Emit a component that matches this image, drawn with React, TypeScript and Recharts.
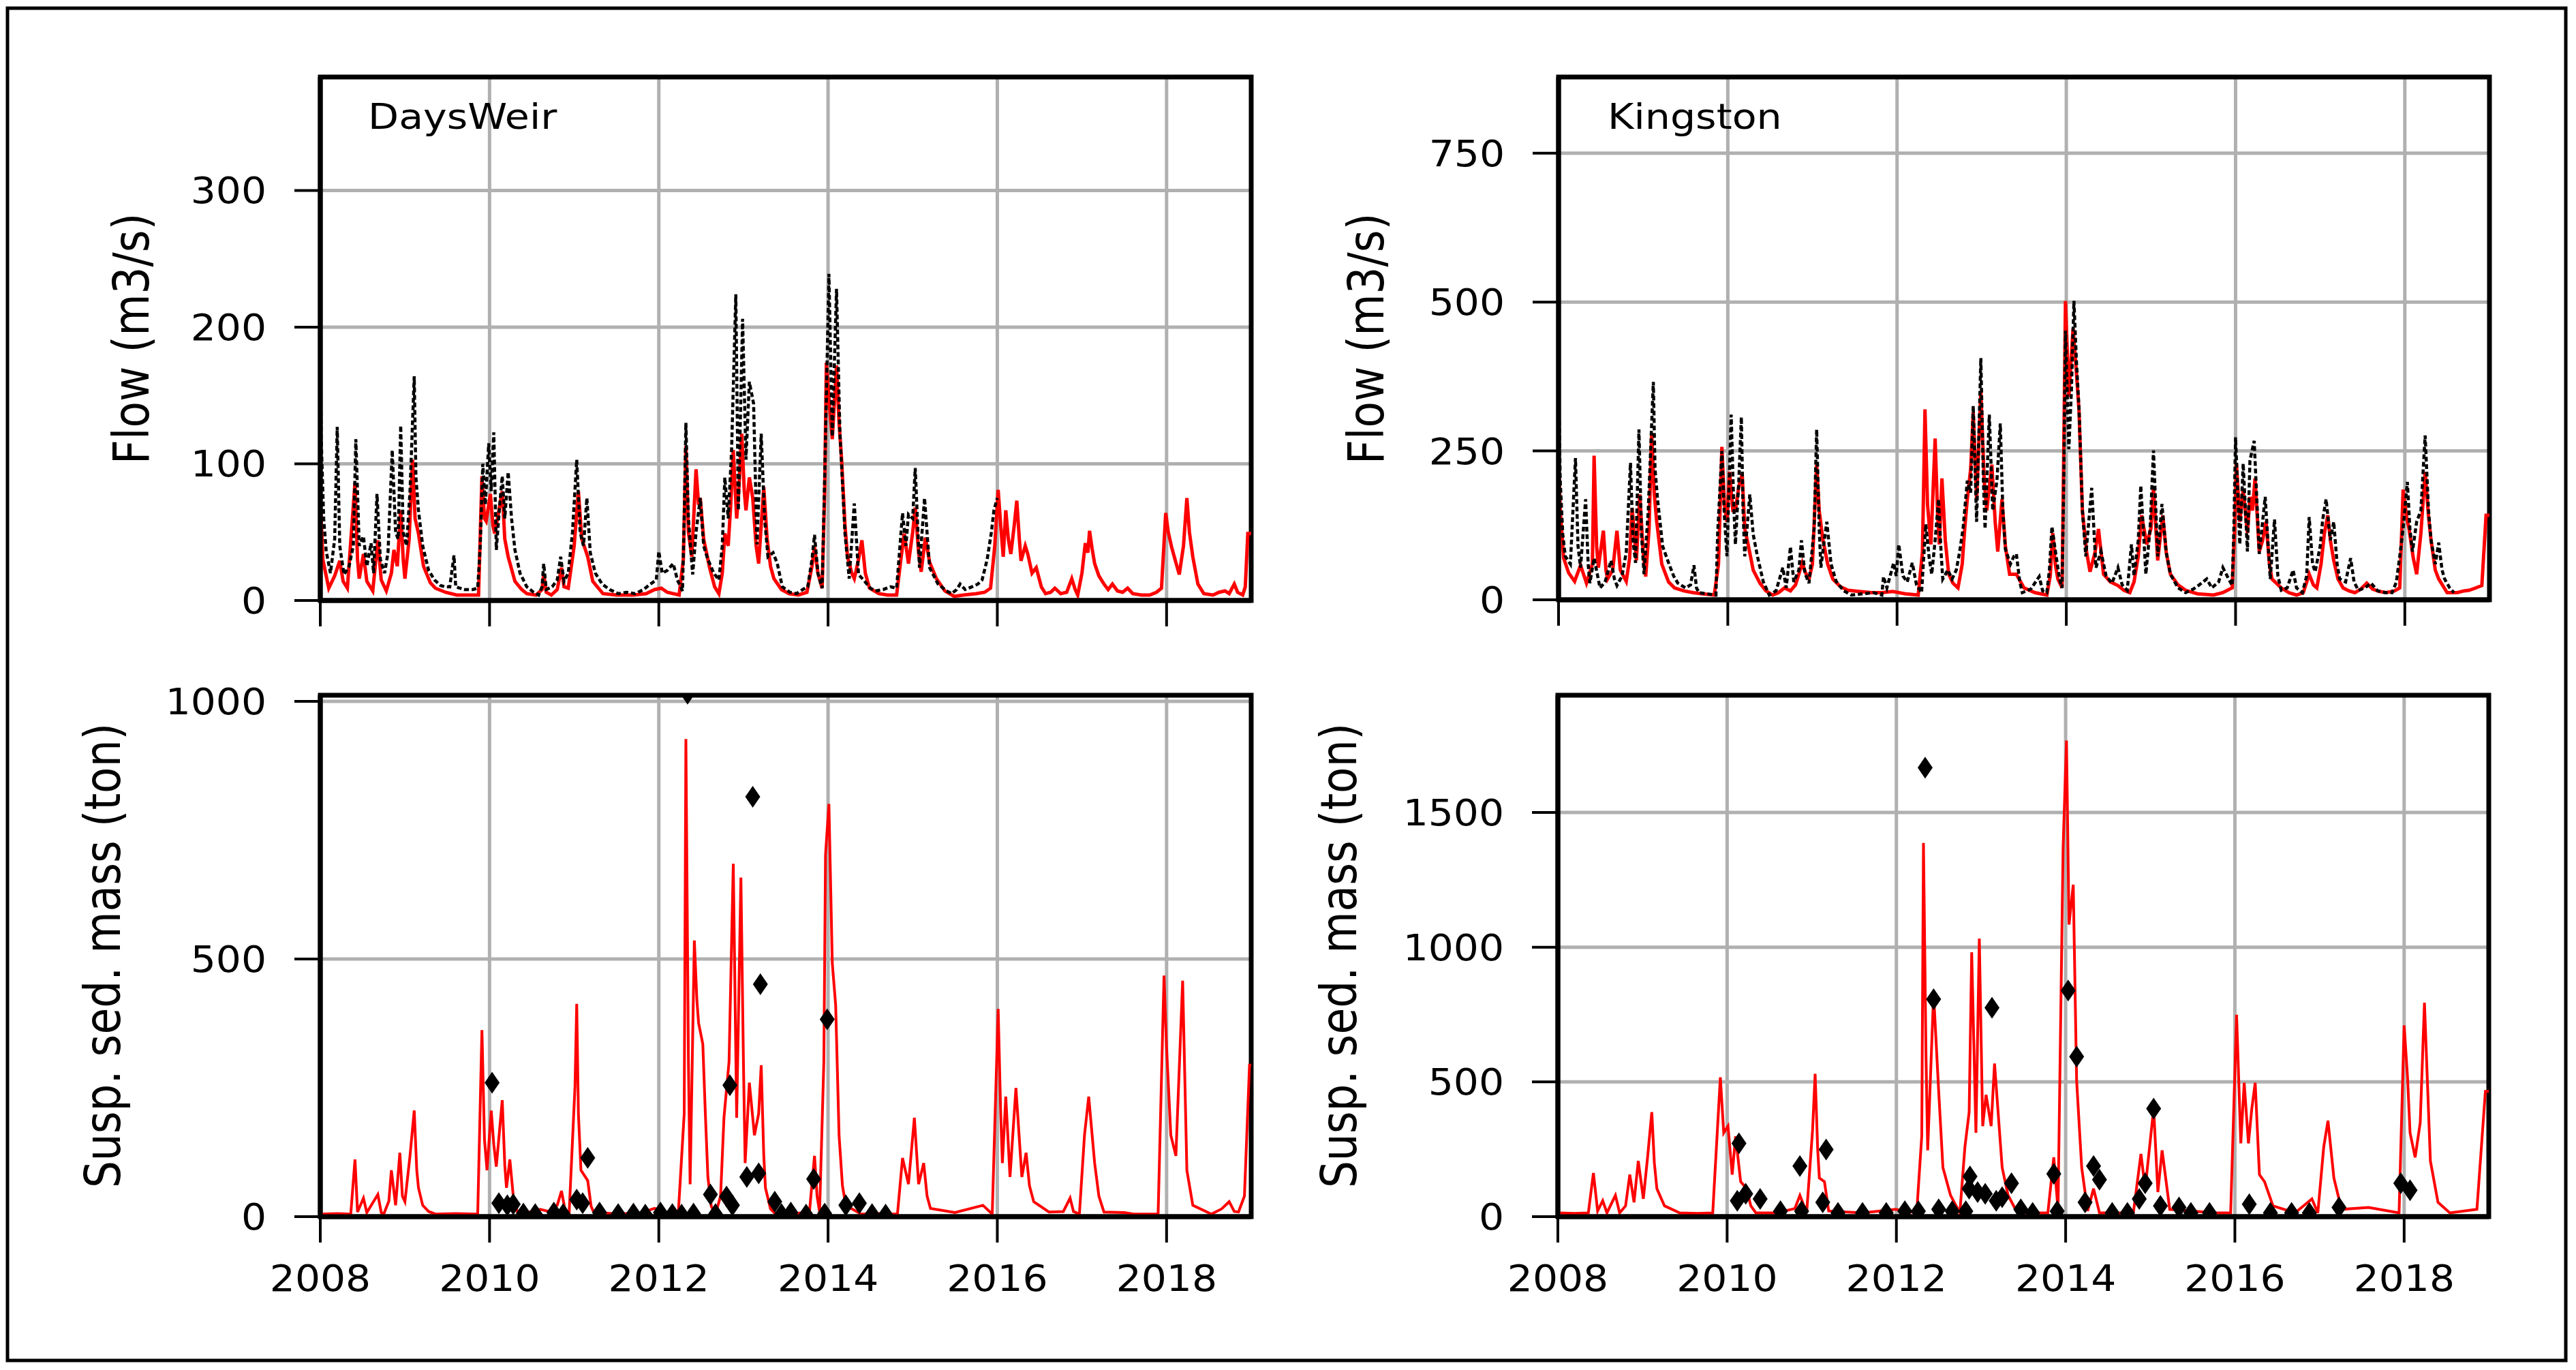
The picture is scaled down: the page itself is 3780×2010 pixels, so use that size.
import React from "react";
import {
  ComposedChart,
  Line,
  Scatter,
  XAxis,
  YAxis,
  CartesianGrid,
  ReferenceArea,
} from "recharts";

// tick values
const yearTicks = [2008, 2010, 2012, 2014, 2016, 2018];
const daysWeirFlowTicks = [0, 100, 200, 300];
const kingstonFlowTicks = [0, 250, 500, 750];
const daysWeirSedTicks = [0, 500, 1000];
const kingstonSedTicks = [0, 500, 1000, 1500];

// all series are [decimal year, value]
const daysWeirFlowModel = [
  [2008.0, 75], [2008.03, 30], [2008.1, 9], [2008.17, 18], [2008.23, 29], [2008.27, 14], [2008.32, 9], [2008.41, 86],
  [2008.44, 30], [2008.46, 16], [2008.51, 34], [2008.55, 14], [2008.62, 7], [2008.68, 44], [2008.72, 15], [2008.78, 7],
  [2008.84, 20], [2008.87, 37], [2008.91, 25], [2008.95, 66], [2008.98, 30], [2009.0, 16], [2009.05, 45], [2009.09, 103],
  [2009.12, 60], [2009.16, 49], [2009.22, 25], [2009.3, 13], [2009.36, 9], [2009.48, 6], [2009.61, 4], [2009.75, 4],
  [2009.87, 4], [2009.91, 91], [2009.94, 60], [2009.96, 58], [2010.01, 78], [2010.04, 55], [2010.06, 49], [2010.1, 62],
  [2010.15, 80], [2010.18, 45], [2010.22, 32], [2010.3, 14], [2010.38, 8], [2010.44, 5], [2010.55, 4], [2010.62, 8],
  [2010.64, 19], [2010.67, 6], [2010.73, 4], [2010.8, 8], [2010.85, 24], [2010.88, 10], [2010.93, 9], [2011.0, 40],
  [2011.05, 80], [2011.09, 45], [2011.16, 32], [2011.22, 14], [2011.34, 5], [2011.5, 4], [2011.7, 4], [2011.85, 5],
  [2011.95, 8], [2012.03, 9], [2012.1, 6], [2012.24, 4], [2012.29, 30], [2012.32, 113], [2012.35, 50], [2012.39, 32],
  [2012.44, 96], [2012.47, 70], [2012.49, 75], [2012.53, 45], [2012.6, 24], [2012.66, 10], [2012.71, 5], [2012.75, 20],
  [2012.78, 49], [2012.82, 40], [2012.85, 70], [2012.88, 110], [2012.92, 60], [2012.94, 75], [2012.98, 122], [2013.01, 80],
  [2013.03, 66], [2013.07, 90], [2013.11, 75], [2013.15, 40], [2013.18, 27], [2013.24, 83], [2013.28, 45], [2013.32, 25],
  [2013.36, 16], [2013.45, 8], [2013.54, 5], [2013.65, 4], [2013.75, 6], [2013.81, 25], [2013.84, 39], [2013.88, 20],
  [2013.93, 9], [2013.96, 80], [2013.98, 174], [2014.02, 140], [2014.05, 118], [2014.1, 172], [2014.13, 130], [2014.16, 103],
  [2014.2, 55], [2014.23, 32], [2014.28, 20], [2014.31, 16], [2014.36, 30], [2014.4, 44], [2014.44, 20], [2014.49, 9],
  [2014.6, 5], [2014.7, 4], [2014.81, 4], [2014.86, 30], [2014.9, 49], [2014.95, 27], [2015.0, 50], [2015.03, 68],
  [2015.07, 35], [2015.1, 21], [2015.15, 46], [2015.2, 28], [2015.28, 16], [2015.38, 7], [2015.49, 3], [2015.6, 4],
  [2015.75, 5], [2015.85, 6], [2015.92, 9], [2015.97, 40], [2016.01, 81], [2016.04, 55], [2016.07, 32], [2016.1, 66],
  [2016.13, 45], [2016.16, 34], [2016.2, 55], [2016.23, 73], [2016.26, 45], [2016.28, 29], [2016.33, 40], [2016.36, 34],
  [2016.41, 20], [2016.46, 24], [2016.52, 10], [2016.57, 5], [2016.63, 6], [2016.68, 9], [2016.75, 5], [2016.82, 6],
  [2016.88, 16], [2016.92, 8], [2016.95, 4], [2017.0, 20], [2017.04, 42], [2017.07, 35], [2017.09, 51], [2017.12, 38],
  [2017.15, 27], [2017.2, 18], [2017.26, 12], [2017.31, 8], [2017.36, 12], [2017.42, 7], [2017.48, 6], [2017.54, 9],
  [2017.6, 5], [2017.7, 4], [2017.8, 4], [2017.88, 6], [2017.94, 9], [2017.99, 64], [2018.02, 50], [2018.06, 39],
  [2018.1, 30], [2018.15, 19], [2018.2, 40], [2018.24, 75], [2018.27, 50], [2018.31, 32], [2018.37, 12], [2018.44, 5],
  [2018.55, 4], [2018.62, 6], [2018.69, 7], [2018.74, 5], [2018.8, 12], [2018.84, 6], [2018.9, 4], [2018.93, 10],
  [2018.96, 49], [2019.0, 49],
];

const daysWeirFlowObserved = [
  [2008.0, 193], [2008.01, 120], [2008.04, 60], [2008.07, 36], [2008.12, 20], [2008.17, 45], [2008.2, 127], [2008.23, 40],
  [2008.28, 19], [2008.34, 25], [2008.39, 40], [2008.42, 118], [2008.46, 40], [2008.51, 47], [2008.55, 25], [2008.6, 42],
  [2008.63, 20], [2008.67, 78], [2008.71, 30], [2008.76, 20], [2008.8, 35], [2008.85, 110], [2008.89, 50], [2008.92, 45],
  [2008.95, 128], [2008.98, 50], [2009.02, 40], [2009.06, 80], [2009.11, 164], [2009.13, 90], [2009.16, 66], [2009.21, 40],
  [2009.28, 22], [2009.35, 15], [2009.42, 11], [2009.47, 10], [2009.53, 10], [2009.58, 33], [2009.6, 10], [2009.7, 8],
  [2009.8, 8], [2009.86, 9], [2009.89, 40], [2009.92, 100], [2009.95, 70], [2009.99, 115], [2010.02, 80], [2010.05, 123],
  [2010.08, 37], [2010.12, 70], [2010.15, 91], [2010.18, 60], [2010.22, 94], [2010.26, 60], [2010.3, 37], [2010.36, 20],
  [2010.44, 10], [2010.52, 6], [2010.58, 4], [2010.62, 10], [2010.64, 27], [2010.67, 8], [2010.74, 10], [2010.8, 15],
  [2010.84, 32], [2010.88, 14], [2010.93, 20], [2010.98, 50], [2011.03, 103], [2011.07, 50], [2011.11, 40], [2011.15, 75],
  [2011.19, 35], [2011.25, 20], [2011.33, 12], [2011.42, 8], [2011.52, 5], [2011.62, 6], [2011.72, 5], [2011.82, 8],
  [2011.9, 12], [2011.97, 15], [2012.0, 36], [2012.04, 20], [2012.1, 22], [2012.17, 27], [2012.22, 15], [2012.28, 7],
  [2012.3, 60], [2012.32, 130], [2012.35, 60], [2012.4, 19], [2012.44, 50], [2012.49, 75], [2012.53, 40], [2012.58, 30],
  [2012.65, 20], [2012.71, 15], [2012.75, 40], [2012.78, 90], [2012.82, 60], [2012.86, 110], [2012.91, 224], [2012.94, 66],
  [2012.99, 206], [2013.03, 103], [2013.07, 160], [2013.12, 144], [2013.16, 41], [2013.21, 122], [2013.25, 60], [2013.29, 32],
  [2013.35, 35], [2013.4, 27], [2013.46, 10], [2013.55, 6], [2013.63, 5], [2013.7, 8], [2013.76, 10], [2013.81, 30],
  [2013.84, 48], [2013.88, 20], [2013.93, 9], [2013.96, 90], [2014.01, 239], [2014.05, 120], [2014.1, 228], [2014.14, 123],
  [2014.2, 49], [2014.25, 16], [2014.31, 71], [2014.36, 19], [2014.42, 15], [2014.5, 9], [2014.56, 7], [2014.65, 8],
  [2014.74, 10], [2014.81, 9], [2014.85, 40], [2014.88, 64], [2014.92, 40], [2014.95, 63], [2015.0, 60], [2015.03, 97],
  [2015.08, 24], [2015.14, 75], [2015.2, 24], [2015.3, 12], [2015.4, 7], [2015.46, 5], [2015.52, 8], [2015.56, 12],
  [2015.62, 8], [2015.7, 10], [2015.77, 12], [2015.82, 15], [2015.88, 30], [2015.93, 50], [2015.96, 66], [2016.0, 75],
];

const kingstonFlowModel = [
  [2008.0, 240], [2008.02, 150], [2008.06, 70], [2008.12, 45], [2008.19, 31], [2008.26, 58], [2008.33, 28], [2008.4, 60],
  [2008.42, 242], [2008.45, 90], [2008.47, 54], [2008.53, 116], [2008.56, 50], [2008.58, 35], [2008.64, 50], [2008.69, 116],
  [2008.73, 50], [2008.8, 31], [2008.84, 70], [2008.87, 154], [2008.92, 66], [2008.96, 177], [2009.0, 80], [2009.03, 39],
  [2009.07, 120], [2009.1, 280], [2009.13, 180], [2009.16, 131], [2009.22, 60], [2009.3, 30], [2009.37, 20], [2009.48, 15],
  [2009.59, 12], [2009.7, 10], [2009.84, 8], [2009.89, 60], [2009.93, 257], [2009.96, 160], [2009.99, 131], [2010.02, 215],
  [2010.06, 150], [2010.09, 150], [2010.13, 190], [2010.17, 211], [2010.2, 120], [2010.24, 93], [2010.3, 50], [2010.38, 28],
  [2010.45, 15], [2010.53, 8], [2010.6, 12], [2010.67, 20], [2010.74, 15], [2010.8, 25], [2010.88, 62], [2010.92, 45],
  [2010.96, 35], [2011.0, 60], [2011.05, 227], [2011.08, 150], [2011.12, 104], [2011.18, 60], [2011.24, 35], [2011.33, 22],
  [2011.42, 16], [2011.55, 14], [2011.7, 12], [2011.82, 12], [2011.95, 14], [2012.1, 10], [2012.25, 8], [2012.3, 80],
  [2012.33, 320], [2012.36, 160], [2012.4, 93], [2012.45, 271], [2012.48, 140], [2012.5, 93], [2012.53, 204], [2012.57, 100],
  [2012.61, 43], [2012.66, 28], [2012.72, 20], [2012.77, 60], [2012.8, 120], [2012.83, 169], [2012.87, 220], [2012.9, 315],
  [2012.94, 169], [2012.99, 349], [2013.03, 200], [2013.06, 150], [2013.12, 227], [2013.16, 130], [2013.19, 81], [2013.24, 169],
  [2013.28, 90], [2013.33, 43], [2013.41, 43], [2013.5, 20], [2013.63, 12], [2013.77, 8], [2013.81, 40], [2013.84, 112],
  [2013.87, 60], [2013.9, 35], [2013.95, 20], [2013.97, 250], [2013.99, 502], [2014.03, 341], [2014.08, 456], [2014.12, 380],
  [2014.15, 318], [2014.19, 150], [2014.24, 80], [2014.28, 47], [2014.34, 80], [2014.38, 119], [2014.44, 43], [2014.52, 30],
  [2014.61, 24], [2014.68, 16], [2014.75, 12], [2014.8, 30], [2014.85, 73], [2014.89, 142], [2014.95, 93], [2015.0, 120],
  [2015.03, 188], [2015.08, 66], [2015.14, 142], [2015.18, 80], [2015.23, 43], [2015.32, 25], [2015.41, 16], [2015.55, 10],
  [2015.74, 8], [2015.85, 12], [2015.96, 20], [2015.99, 120], [2016.01, 230], [2016.05, 131], [2016.09, 185], [2016.14, 112],
  [2016.17, 173], [2016.2, 150], [2016.23, 204], [2016.28, 81], [2016.32, 100], [2016.36, 131], [2016.4, 60], [2016.43, 35],
  [2016.54, 20], [2016.63, 12], [2016.72, 8], [2016.8, 12], [2016.87, 43], [2016.92, 25], [2016.96, 20], [2017.01, 60],
  [2017.05, 112], [2017.09, 142], [2017.12, 100], [2017.16, 66], [2017.21, 35], [2017.27, 20], [2017.34, 15], [2017.41, 12],
  [2017.48, 18], [2017.55, 28], [2017.62, 18], [2017.7, 14], [2017.78, 12], [2017.88, 15], [2017.94, 20], [2017.98, 185],
  [2018.02, 140], [2018.05, 119], [2018.1, 70], [2018.14, 43], [2018.19, 112], [2018.24, 215], [2018.28, 140], [2018.31, 100],
  [2018.36, 50], [2018.4, 35], [2018.5, 12], [2018.62, 12], [2018.7, 15], [2018.76, 16], [2018.84, 20], [2018.91, 24],
  [2018.96, 142], [2019.0, 142],
];

const kingstonFlowObserved = [
  [2008.0, 364], [2008.02, 200], [2008.05, 110], [2008.08, 73], [2008.14, 60], [2008.2, 238], [2008.23, 90], [2008.26, 54],
  [2008.32, 169], [2008.35, 60], [2008.37, 28], [2008.42, 70], [2008.49, 20], [2008.55, 30], [2008.62, 66], [2008.66, 35],
  [2008.69, 24], [2008.75, 40], [2008.8, 80], [2008.85, 230], [2008.88, 100], [2008.91, 62], [2008.95, 286], [2008.98, 110],
  [2009.01, 43], [2009.06, 150], [2009.12, 366], [2009.14, 220], [2009.17, 169], [2009.23, 90], [2009.3, 62], [2009.36, 40],
  [2009.41, 28], [2009.5, 20], [2009.56, 25], [2009.6, 58], [2009.63, 20], [2009.66, 12], [2009.75, 10], [2009.86, 8],
  [2009.88, 112], [2009.93, 250], [2009.96, 140], [2009.99, 73], [2010.04, 311], [2010.07, 160], [2010.09, 93], [2010.13, 200],
  [2010.16, 307], [2010.18, 150], [2010.2, 73], [2010.26, 177], [2010.3, 110], [2010.35, 73], [2010.42, 30], [2010.49, 8],
  [2010.57, 15], [2010.65, 54], [2010.69, 20], [2010.74, 89], [2010.78, 30], [2010.84, 50], [2010.87, 100], [2010.91, 45],
  [2010.96, 28], [2011.02, 120], [2011.05, 286], [2011.08, 120], [2011.1, 54], [2011.14, 100], [2011.17, 131], [2011.22, 60],
  [2011.28, 31], [2011.37, 15], [2011.46, 8], [2011.6, 10], [2011.72, 12], [2011.82, 8], [2011.84, 39], [2011.88, 20],
  [2011.96, 62], [2011.99, 40], [2012.02, 93], [2012.07, 40], [2012.12, 30], [2012.18, 62], [2012.23, 25], [2012.29, 12],
  [2012.31, 60], [2012.34, 127], [2012.38, 70], [2012.41, 43], [2012.45, 100], [2012.49, 169], [2012.52, 80], [2012.54, 35],
  [2012.6, 50], [2012.65, 35], [2012.7, 50], [2012.74, 81], [2012.78, 120], [2012.83, 200], [2012.87, 180], [2012.9, 326],
  [2012.94, 131], [2012.99, 406], [2013.02, 200], [2013.04, 119], [2013.09, 311], [2013.13, 150], [2013.18, 200], [2013.22, 296],
  [2013.25, 150], [2013.28, 85], [2013.34, 60], [2013.38, 73], [2013.41, 77], [2013.45, 30], [2013.48, 12], [2013.58, 18],
  [2013.68, 39], [2013.72, 15], [2013.77, 12], [2013.8, 50], [2013.83, 123], [2013.88, 73], [2013.92, 35], [2013.95, 20],
  [2013.97, 200], [2013.99, 452], [2014.03, 253], [2014.06, 350], [2014.09, 502], [2014.12, 400], [2014.15, 322], [2014.19, 150],
  [2014.23, 73], [2014.3, 188], [2014.35, 54], [2014.41, 81], [2014.47, 40], [2014.54, 28], [2014.61, 54], [2014.66, 25],
  [2014.72, 16], [2014.77, 93], [2014.8, 40], [2014.85, 100], [2014.88, 192], [2014.94, 43], [2014.99, 120], [2015.03, 251],
  [2015.08, 73], [2015.13, 161], [2015.18, 80], [2015.23, 43], [2015.32, 20], [2015.41, 12], [2015.5, 18], [2015.57, 25],
  [2015.66, 35], [2015.72, 20], [2015.8, 30], [2015.85, 54], [2015.9, 40], [2015.96, 24], [2015.98, 120], [2016.0, 273],
  [2016.05, 93], [2016.09, 229], [2016.14, 81], [2016.17, 234], [2016.22, 267], [2016.28, 77], [2016.35, 173], [2016.41, 35],
  [2016.46, 135], [2016.5, 40], [2016.54, 16], [2016.61, 20], [2016.68, 50], [2016.72, 20], [2016.79, 12], [2016.84, 40],
  [2016.87, 139], [2016.91, 60], [2016.94, 47], [2017.0, 90], [2017.03, 135], [2017.07, 169], [2017.12, 100], [2017.16, 131],
  [2017.2, 60], [2017.23, 35], [2017.3, 30], [2017.36, 70], [2017.4, 30], [2017.45, 16], [2017.53, 20], [2017.6, 28],
  [2017.68, 15], [2017.77, 12], [2017.85, 12], [2017.9, 30], [2017.94, 73], [2017.98, 120], [2018.03, 198], [2018.06, 120],
  [2018.09, 81], [2018.14, 131], [2018.19, 150], [2018.24, 276], [2018.28, 150], [2018.31, 100], [2018.36, 60], [2018.4, 96],
  [2018.44, 50], [2018.47, 35], [2018.53, 20], [2018.58, 12],
];

const daysWeirSedModel = [
  [2008.0, 5], [2008.2, 6], [2008.36, 5], [2008.41, 111], [2008.44, 9], [2008.51, 36], [2008.55, 8], [2008.68, 43],
  [2008.72, 8], [2008.75, 5], [2008.81, 30], [2008.84, 90], [2008.89, 22], [2008.94, 124], [2008.97, 40], [2009.0, 29],
  [2009.06, 118], [2009.11, 206], [2009.14, 90], [2009.16, 56], [2009.21, 22], [2009.28, 10], [2009.36, 5], [2009.6, 6],
  [2009.86, 5], [2009.91, 362], [2009.94, 150], [2009.97, 90], [2010.02, 206], [2010.05, 140], [2010.08, 97], [2010.15, 226],
  [2010.18, 100], [2010.2, 56], [2010.24, 111], [2010.28, 40], [2010.33, 9], [2010.45, 8], [2010.6, 14], [2010.7, 10],
  [2010.8, 22], [2010.85, 50], [2010.89, 15], [2010.94, 5], [2011.01, 254], [2011.03, 413], [2011.05, 200], [2011.08, 90],
  [2011.16, 70], [2011.2, 20], [2011.23, 9], [2011.52, 5], [2011.8, 8], [2011.95, 16], [2012.1, 8], [2012.23, 5],
  [2012.3, 200], [2012.32, 927], [2012.35, 300], [2012.37, 63], [2012.42, 536], [2012.45, 420], [2012.47, 376], [2012.52, 335],
  [2012.55, 200], [2012.58, 77], [2012.62, 20], [2012.67, 5], [2012.73, 40], [2012.77, 192], [2012.83, 301], [2012.88, 685],
  [2012.92, 192], [2012.97, 658], [2013.0, 300], [2013.02, 104], [2013.07, 260], [2013.13, 158], [2013.18, 200], [2013.21, 294],
  [2013.24, 120], [2013.26, 56], [2013.32, 15], [2013.38, 5], [2013.6, 6], [2013.78, 9], [2013.84, 118], [2013.87, 40],
  [2013.9, 9], [2013.95, 300], [2013.97, 702], [2014.01, 801], [2014.05, 492], [2014.09, 410], [2014.13, 158], [2014.17, 60],
  [2014.21, 22], [2014.39, 5], [2014.6, 6], [2014.82, 5], [2014.88, 114], [2014.95, 63], [2015.02, 192], [2015.07, 63],
  [2015.13, 104], [2015.17, 40], [2015.21, 16], [2015.5, 8], [2015.83, 22], [2015.94, 5], [2016.01, 403], [2016.04, 200],
  [2016.06, 104], [2016.1, 233], [2016.15, 77], [2016.22, 250], [2016.29, 77], [2016.34, 124], [2016.38, 60], [2016.43, 29],
  [2016.61, 9], [2016.78, 10], [2016.86, 36], [2016.9, 10], [2016.97, 5], [2017.03, 158], [2017.08, 233], [2017.15, 104],
  [2017.2, 40], [2017.26, 9], [2017.5, 8], [2017.61, 5], [2017.9, 5], [2017.97, 468], [2018.0, 328], [2018.05, 158],
  [2018.11, 118], [2018.19, 458], [2018.24, 90], [2018.31, 22], [2018.53, 5], [2018.65, 15], [2018.74, 29], [2018.8, 10],
  [2018.85, 9], [2018.92, 40], [2018.98, 294], [2019.0, 294],
];

const daysWeirSedObserved = [
  [2010.03, 260], [2010.11, 26], [2010.21, 22], [2010.28, 24], [2010.4, 6], [2010.54, 5], [2010.76, 8], [2010.87, 5],
  [2011.03, 33], [2011.1, 26], [2011.16, 114], [2011.3, 8], [2011.52, 5], [2011.7, 6], [2011.84, 4], [2012.02, 8],
  [2012.16, 5], [2012.27, 4], [2012.34, 1015], [2012.41, 6], [2012.61, 43], [2012.67, 5], [2012.8, 39], [2012.84, 255],
  [2012.87, 22], [2013.04, 77], [2013.11, 815], [2013.18, 84], [2013.2, 451], [2013.37, 29], [2013.45, 5], [2013.56, 8],
  [2013.74, 4], [2013.83, 73], [2013.96, 6], [2013.99, 383], [2014.21, 22], [2014.37, 26], [2014.52, 5], [2014.68, 4],
];

const kingstonSedModel = [
  [2008.0, 14], [2008.2, 12], [2008.36, 14], [2008.42, 162], [2008.47, 21], [2008.53, 59], [2008.58, 14], [2008.68, 79],
  [2008.73, 14], [2008.8, 40], [2008.85, 156], [2008.9, 53], [2008.95, 207], [2009.01, 66], [2009.06, 220], [2009.11, 388],
  [2009.14, 200], [2009.17, 104], [2009.26, 40], [2009.44, 14], [2009.65, 12], [2009.83, 14], [2009.92, 517], [2009.96, 311],
  [2010.01, 336], [2010.06, 156], [2010.1, 298], [2010.16, 130], [2010.23, 104], [2010.28, 40], [2010.34, 14], [2010.59, 14],
  [2010.8, 30], [2010.86, 79], [2010.94, 14], [2011.01, 323], [2011.04, 530], [2011.07, 250], [2011.09, 143], [2011.15, 130],
  [2011.2, 21], [2011.6, 14], [2011.99, 27], [2012.24, 14], [2012.3, 300], [2012.32, 1387], [2012.35, 600], [2012.37, 246],
  [2012.44, 826], [2012.5, 465], [2012.55, 182], [2012.64, 79], [2012.75, 14], [2012.81, 259], [2012.86, 388], [2012.89, 981],
  [2012.94, 311], [2012.98, 1032], [2013.02, 336], [2013.06, 452], [2013.12, 336], [2013.16, 568], [2013.25, 182], [2013.32, 79],
  [2013.43, 14], [2013.79, 14], [2013.86, 220], [2013.91, 27], [2013.97, 1367], [2014.01, 1767], [2014.04, 1084], [2014.09, 1232],
  [2014.13, 504], [2014.19, 182], [2014.26, 21], [2014.33, 104], [2014.4, 14], [2014.8, 14], [2014.89, 233], [2014.94, 104],
  [2015.04, 401], [2015.09, 91], [2015.14, 246], [2015.23, 27], [2015.77, 14], [2015.95, 14], [2016.02, 749], [2016.07, 272],
  [2016.11, 497], [2016.16, 272], [2016.2, 401], [2016.24, 497], [2016.29, 156], [2016.35, 130], [2016.45, 40], [2016.71, 14],
  [2016.91, 66], [2016.98, 14], [2017.05, 259], [2017.1, 356], [2017.17, 143], [2017.26, 27], [2017.58, 34], [2017.94, 14],
  [2018.0, 710], [2018.04, 517], [2018.07, 311], [2018.13, 220], [2018.19, 349], [2018.24, 794], [2018.31, 207], [2018.4, 53],
  [2018.54, 14], [2018.86, 27], [2018.96, 465], [2019.0, 465],
];

const kingstonSedObserved = [
  [2010.12, 59], [2010.14, 272], [2010.22, 85], [2010.39, 66], [2010.63, 20], [2010.86, 188], [2010.88, 20], [2011.13, 53],
  [2011.17, 249], [2011.31, 14], [2011.6, 14], [2011.88, 14], [2012.1, 20], [2012.26, 20], [2012.34, 1666], [2012.44, 807],
  [2012.5, 27], [2012.66, 20], [2012.82, 20], [2012.86, 104], [2012.87, 149], [2012.96, 91], [2013.05, 85], [2013.13, 775],
  [2013.18, 59], [2013.25, 72], [2013.36, 124], [2013.47, 27], [2013.61, 14], [2013.86, 159], [2013.9, 20], [2014.03, 839],
  [2014.13, 594], [2014.23, 53], [2014.33, 188], [2014.4, 137], [2014.55, 14], [2014.73, 14], [2014.87, 66], [2014.94, 124],
  [2015.04, 401], [2015.12, 40], [2015.34, 34], [2015.48, 14], [2015.7, 14], [2016.17, 46], [2016.42, 14], [2016.67, 14],
  [2016.88, 14], [2017.23, 34], [2017.96, 124], [2018.07, 98],
];

const FONT = "'DejaVu Sans', Verdana, sans-serif";
const PLOT_W = 1366;

const toPoints = (rows: number[][]) => rows.map(([t, v]) => ({ t, v }));

function YTick(props: any) {
  const { x, y, payload } = props;
  return (
    <text
      transform={`translate(${x},${y + 19}) scale(1.1,1)`}
      textAnchor="end"
      fontFamily={FONT}
      fontSize={53}
      fill="#000"
    >
      {payload.value}
    </text>
  );
}

function XTick(props: any) {
  const { x, y, payload } = props;
  return (
    <text
      transform={`translate(${x},${y + 38}) scale(1.1,1)`}
      textAnchor="middle"
      fontFamily={FONT}
      fontSize={53}
      fill="#000"
    >
      {payload.value}
    </text>
  );
}

const NoTick = () => <g />;

function Diamond(props: any) {
  const { cx, cy } = props;
  if (cx == null || cy == null) return <g />;
  return (
    <path
      d={`M${cx},${cy - 16}L${cx + 11},${cy}L${cx},${cy + 16}L${cx - 11},${cy}Z`}
      fill="#000"
    />
  );
}

type PanelProps = {
  left: number;
  top: number;
  axisW: number;
  marginTop: number;
  plotH: number;
  xAxisH: number;
  yMax: number;
  yTicks: number[];
  model: number[][];
  observed: number[][];
  asPoints?: boolean;
  showYears?: boolean;
  redWidth: number;
};

const spine = { stroke: "#000", strokeWidth: 7 };

function Panel(p: PanelProps) {
  const width = p.axisW + PLOT_W + 40;
  const height = p.marginTop + p.plotH + p.xAxisH;
  return (
    <div style={{ position: "absolute", left: p.left, top: p.top }}>
      <ComposedChart
        width={width}
        height={height}
        margin={{ top: p.marginTop, right: 40, bottom: 0, left: 0 }}
      >
        <CartesianGrid stroke="#b0b0b0" strokeWidth={5} />
        <Line
          data={toPoints(p.model)}
          dataKey="v"
          type="linear"
          stroke="#ff0000"
          strokeWidth={p.redWidth}
          dot={false}
          activeDot={false}
          isAnimationActive={false}
        />
        {p.asPoints ? (
          <Scatter
            data={toPoints(p.observed)}
            dataKey="v"
            fill="#000"
            shape={Diamond}
            isAnimationActive={false}
          />
        ) : (
          <Line
            data={toPoints(p.observed)}
            dataKey="v"
            type="linear"
            stroke="#000"
            strokeWidth={4.5}
            strokeDasharray="7 4"
            dot={false}
            activeDot={false}
            isAnimationActive={false}
          />
        )}
        {/* axes frame */}
        <ReferenceArea
          x1={2008}
          x2={2019}
          y1={0}
          y2={p.yMax}
          fill="none"
          fillOpacity={0}
          stroke="#000"
          strokeWidth={7}
          ifOverflow="visible"
        />
        <XAxis
          type="number"
          dataKey="t"
          domain={[2008, 2019]}
          allowDataOverflow
          ticks={yearTicks}
          interval={0}
          height={p.xAxisH}
          axisLine={spine}
          tickLine={{ stroke: "#000", strokeWidth: 4 }}
          tickSize={38}
          tickMargin={33}
          tick={p.showYears ? XTick : NoTick}
        />
        <YAxis
          type="number"
          dataKey="v"
          domain={[0, p.yMax]}
          allowDataOverflow
          ticks={p.yTicks}
          interval={0}
          width={p.axisW}
          axisLine={spine}
          tickLine={{ stroke: "#000", strokeWidth: 4 }}
          tickSize={38}
          tickMargin={41}
          tick={YTick}
        />
      </ComposedChart>
    </div>
  );
}

function YLabel({ x, y, text }: { x: number; y: number; text: string }) {
  return (
    <text
      transform={`translate(${x},${y}) scale(1.15,1) rotate(-90)`}
      textAnchor="middle"
      fontFamily={FONT}
      fontSize={63}
      fill="#000"
    >
      {text}
    </text>
  );
}

export default function App() {
  return (
    <div
      style={{
        position: "absolute",
        left: 0,
        top: 0,
        width: 3780,
        height: 2010,
        background: "#fff",
        overflow: "hidden",
      }}
    >
      <Panel
        left={0}
        top={0}
        axisW={470}
        marginTop={113}
        plotH={768}
        xAxisH={60}
        yMax={383}
        yTicks={daysWeirFlowTicks}
        model={daysWeirFlowModel}
        observed={daysWeirFlowObserved}
        redWidth={5}
      />
      <Panel
        left={1880}
        top={0}
        axisW={407}
        marginTop={113}
        plotH={767}
        xAxisH={60}
        yMax={878}
        yTicks={kingstonFlowTicks}
        model={kingstonFlowModel}
        observed={kingstonFlowObserved}
        redWidth={5}
      />
      <Panel
        left={0}
        top={960}
        axisW={470}
        marginTop={60}
        plotH={765}
        xAxisH={140}
        yMax={1012}
        yTicks={daysWeirSedTicks}
        model={daysWeirSedModel}
        observed={daysWeirSedObserved}
        asPoints
        showYears
        redWidth={4}
      />
      <Panel
        left={1880}
        top={960}
        axisW={406}
        marginTop={60}
        plotH={765}
        xAxisH={140}
        yMax={1935}
        yTicks={kingstonSedTicks}
        model={kingstonSedModel}
        observed={kingstonSedObserved}
        asPoints
        showYears
        redWidth={4}
      />
      <svg
        width={3780}
        height={2010}
        style={{ position: "absolute", left: 0, top: 0, pointerEvents: "none" }}
      >
        <rect x={11} y={12} width={3754} height={1984} fill="none" stroke="#000" strokeWidth={5} />
        <text
          transform="translate(540,189) scale(1.15,1)"
          fontFamily={FONT}
          fontSize={51}
          fill="#000"
        >
          DaysWeir
        </text>
        <text
          transform="translate(2359,189) scale(1.15,1)"
          fontFamily={FONT}
          fontSize={51}
          fill="#000"
        >
          Kingston
        </text>
        <YLabel x={218} y={497} text="Flow (m3/s)" />
        <YLabel x={2030} y={497} text="Flow (m3/s)" />
        <YLabel x={176} y={1402} text="Susp. sed. mass (ton)" />
        <YLabel x={1990} y={1402} text="Susp. sed. mass (ton)" />
      </svg>
    </div>
  );
}
